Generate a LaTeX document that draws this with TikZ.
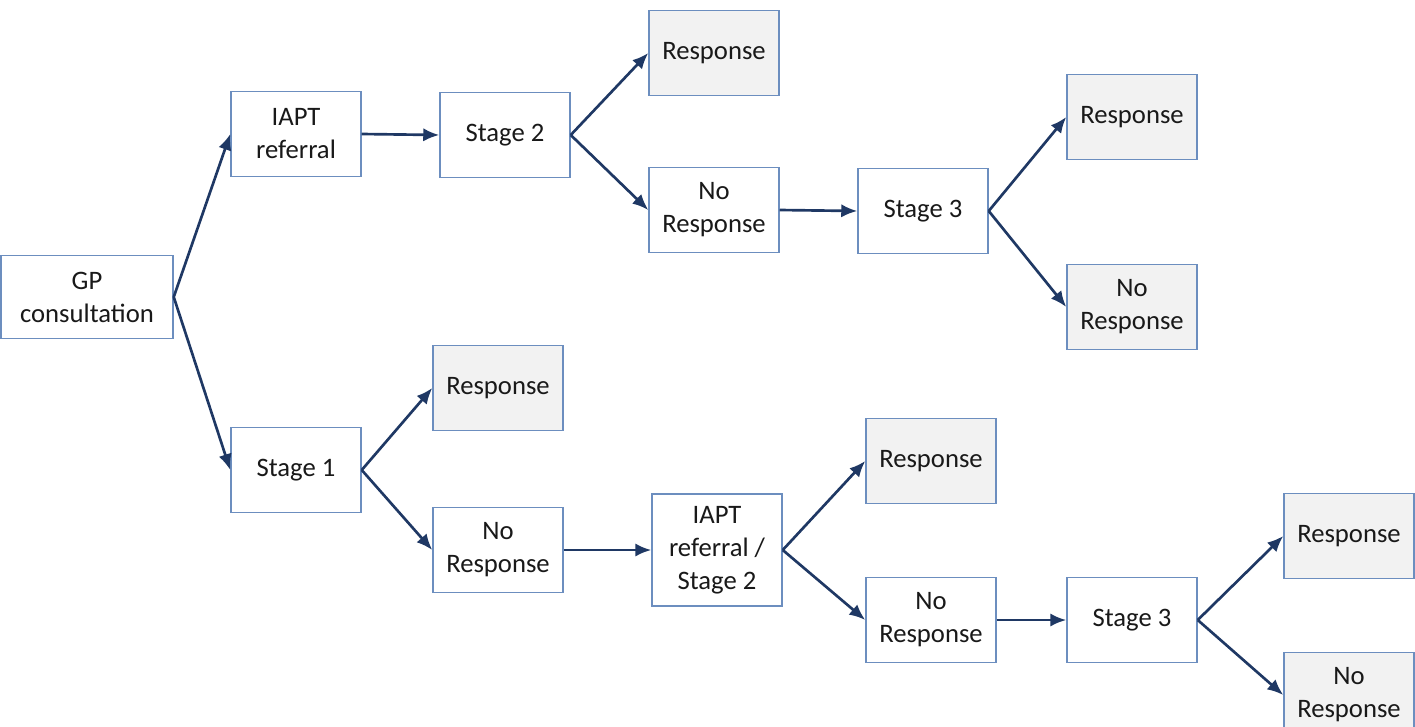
\documentclass[tikz,border=0pt]{standalone}
\usepackage{fontspec}
\setmainfont{Carlito}
\usetikzlibrary{arrows.meta}
\definecolor{boxline}{RGB}{108,142,191}
\definecolor{arrowcol}{RGB}{31,56,100}
\definecolor{resfill}{RGB}{242,242,242}
\tikzset{
	box/.style={draw=boxline,line width=1.1pt,fill=white,minimum width=97.5pt,minimum height=63.5pt,align=center,inner sep=2pt,font=\fontsize{20}{24.75}\selectfont,text=black!90},
	resbox/.style={box,fill=resfill},
	flow/.style={draw=arrowcol,line width=2pt,-{Latex[length=12pt,width=10pt]}}
}
\begin{document}
\begin{tikzpicture}[x=0.75pt,y=-0.75pt]
		\useasboundingbox (0,0) rectangle (1415,726);
		% upper branch
		\node[box,minimum width=129pt,minimum height=62pt] (gp) at (87,297) {GP\\consultation};
		\node[box] (iapt) at (296,134) {IAPT\\referral};
		\node[box] (stagetwo) at (505,135) {Stage 2};
		\node[resbox] (resa) at (714,53) {Response};
		\node[box] (nresa) at (714,210) {No\\Response};
		\node[box] (stagethreea) at (923,211) {Stage 3};
		\node[resbox] (resb) at (1132,117) {Response};
		\node[resbox] (nresb) at (1132,307) {No\\Response};
		% lower branch
		\node[box] (stageone) at (296,470) {Stage 1};
		\node[resbox] (resc) at (498,388) {Response};
		\node[box] (nresc) at (498,550) {No\\Response};
		\node[box,minimum height=84pt] (iaptstage) at (717,550) {IAPT\\referral /\\Stage 2};
		\node[resbox] (resd) at (931,461) {Response};
		\node[box] (nresd) at (931,620) {No\\Response};
		\node[box] (stagethreeb) at (1132,620) {Stage 3};
		\node[resbox] (rese) at (1349,536) {Response};
		\node[resbox] (nrese) at (1349,695) {No\\Response};
		% connectors
		\draw[flow] (gp.east) -- (iapt.west);
		\draw[flow] (gp.east) -- (stageone.west);
		\draw[flow] (iapt.east) -- (stagetwo.west);
		\draw[flow] (stagetwo.east) -- (resa.west);
		\draw[flow] (stagetwo.east) -- (nresa.west);
		\draw[flow] (nresa.east) -- (stagethreea.west);
		\draw[flow] (stagethreea.east) -- (resb.west);
		\draw[flow] (stagethreea.east) -- (nresb.west);
		\draw[flow] (stageone.east) -- (resc.west);
		\draw[flow] (stageone.east) -- (nresc.west);
		\draw[flow] (nresc.east) -- (iaptstage.west);
		\draw[flow] (iaptstage.east) -- (resd.west);
		\draw[flow] (iaptstage.east) -- (nresd.west);
		\draw[flow] (nresd.east) -- (stagethreeb.west);
		\draw[flow] (stagethreeb.east) -- (rese.west);
		\draw[flow] (stagethreeb.east) -- (nrese.west);
	\end{tikzpicture}
\end{document}
